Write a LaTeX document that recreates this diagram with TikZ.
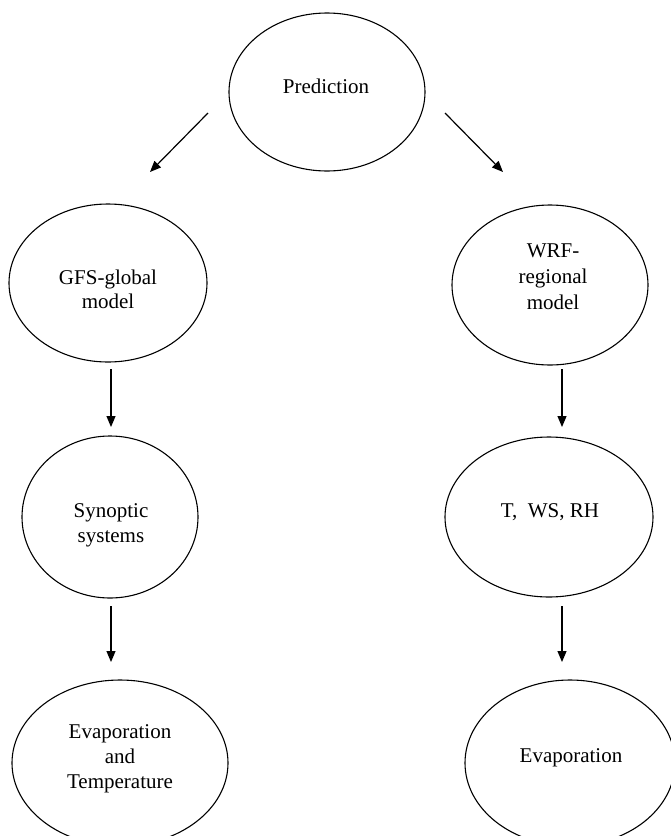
\documentclass[tikz,border=0pt]{standalone}
\usepackage{fontspec}
\setmainfont{Liberation Serif}
\usetikzlibrary{shapes.geometric,arrows.meta}
\begin{document}
\begin{tikzpicture}[x=1pt,y=-1pt,
  oval/.style={draw,ellipse,line width=1.1pt,inner sep=0pt},
  lbl/.style={anchor=base,inner sep=0pt,font=\fontsize{21}{24.5}\selectfont},
  conn/.style={line width=1.2pt,-{Triangle[length=11pt,width=9pt]}}]
\useasboundingbox (0,0) rectangle (670,836);
% ellipses
\node[oval,minimum width=196pt,minimum height=158pt] (pred) at (327,92) {};
\node[oval,minimum width=198pt,minimum height=158pt] (gfs) at (108,283) {};
\node[oval,minimum width=196pt,minimum height=160pt] (wrf) at (550,285) {};
\node[oval,minimum width=176pt,minimum height=162pt] (syn) at (110,517) {};
\node[oval,minimum width=208pt,minimum height=160pt] (tws) at (549,517) {};
\node[oval,minimum width=216pt,minimum height=166pt] (evt) at (120,763) {};
\node[oval,minimum width=210pt,minimum height=166pt] (evp) at (570,763) {};
% texts
\node[lbl] (tpred) at (326,93) {Prediction};
\node[lbl] (tgfs1) at (108,284) {GFS-global};
\node[lbl] (tgfs2) at (108,308) {model};
\node[lbl] (twrf1) at (553,257) {WRF-};
\node[lbl] (twrf2) at (553,283) {regional};
\node[lbl] (twrf3) at (553,309) {model};
\node[lbl] (tsyn1) at (111,517) {Synoptic};
\node[lbl] (tsyn2) at (111,542) {systems};
\node[lbl] (ttws) at (550,517) {T,~~WS, RH};
\node[lbl] (tevt1) at (120,738) {Evaporation};
\node[lbl] (tevt2) at (120,763) {and};
\node[lbl] (tevt3) at (120,788) {Temperature};
\node[lbl] (tevp) at (571,762) {Evaporation};
% arrows
\coordinate (a1s) at (208,113); \coordinate (a1e) at (150,172);
\coordinate (a2s) at (445,113); \coordinate (a2e) at (503,172);
\coordinate (a3s) at (111,369); \coordinate (a3e) at (111,427);
\coordinate (a4s) at (562,369); \coordinate (a4e) at (562,427);
\coordinate (a5s) at (111,606); \coordinate (a5e) at (111,662);
\coordinate (a6s) at (562,606); \coordinate (a6e) at (562,662);
\draw[conn] (a1s) -- (a1e);
\draw[conn] (a2s) -- (a2e);
\draw[conn] (a3s) -- (a3e);
\draw[conn] (a4s) -- (a4e);
\draw[conn] (a5s) -- (a5e);
\draw[conn] (a6s) -- (a6e);
\end{tikzpicture}
\end{document}
